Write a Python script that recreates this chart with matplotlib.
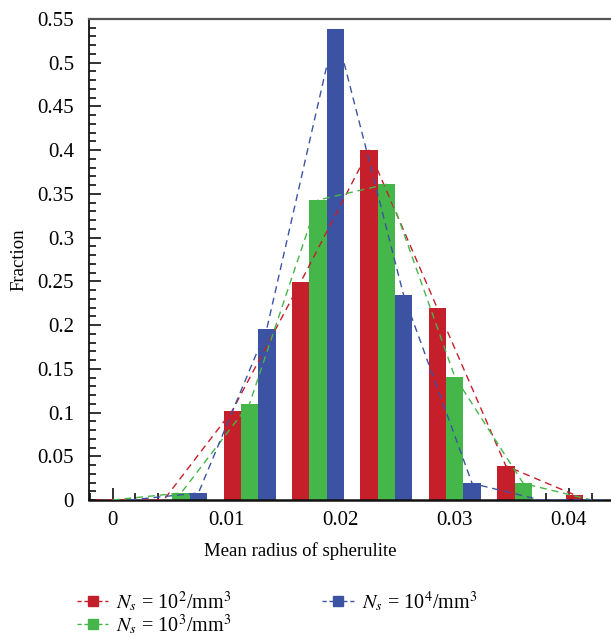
import numpy as np
import matplotlib
matplotlib.use("Agg")
import matplotlib.pyplot as plt
from matplotlib.ticker import MultipleLocator
from matplotlib.lines import Line2D

plt.rcParams["font.family"] = ["Liberation Serif", "DejaVu Serif"]
plt.rcParams["mathtext.fontset"] = "stix"

RED = "#c41f2a"; GREEN = "#45b64a"; BLUE = "#3c53a4"

# bin centres (green sits on the centre, red / blue either side)
centers = [0.000, 0.006, 0.012, 0.018, 0.024, 0.030, 0.036, 0.042]
frac_1e2 = [0.0, 0.0, 0.102, 0.249, 0.400, 0.219, 0.039, 0.006]
frac_1e3 = [0.0, 0.008, 0.110, 0.343, 0.361, 0.141, 0.019, 0.0]
frac_1e4 = [0.0, 0.008, 0.196, 0.539, 0.234, 0.019, 0.0, 0.0]
labels = [r"$N_s$ = 10$^2$/mm$^3$", r"$N_s$ = 10$^3$/mm$^3$", r"$N_s$ = 10$^4$/mm$^3$"]

W = 0.00152
c = np.array(centers)

fig = plt.figure(figsize=(6.11, 6.37), dpi=100)
ax = fig.add_axes([88.5/611, 1-500/637, 1-88.5/611, 481/637])

series = [(frac_1e2, -W, RED), (frac_1e3, 0.0, GREEN), (frac_1e4, W, BLUE)]
for vals, off, col in series:
    ax.bar(c + off, vals, W, color=col, zorder=2)
for vals, off, col in series:
    ax.plot(c + off, vals, ls=(0, (5, 3.5)), lw=1.0, color=col, zorder=3)

ax.set_xlim(-0.00212, 0.0437)
ax.set_ylim(0, 0.55)
ax.xaxis.set_major_locator(MultipleLocator(0.01))
ax.xaxis.set_minor_locator(MultipleLocator(0.002))
ax.yaxis.set_major_locator(MultipleLocator(0.05))
ax.yaxis.set_minor_locator(MultipleLocator(0.01))
ax.xaxis.set_major_formatter(lambda v, p: f"{v:g}")
ax.yaxis.set_major_formatter(lambda v, p: f"{v:g}")
ax.tick_params(which="both", direction="in", top=False, right=False, width=1.2, color="#111")
ax.tick_params(which="major", length=8.5, labelsize=15)
ax.tick_params(axis="y", which="major", pad=10.5)
ax.tick_params(axis="x", which="major", pad=8)
ax.tick_params(which="minor", length=5)

ax.spines["right"].set_visible(False)
ax.spines["top"].set_color("#555555"); ax.spines["top"].set_linewidth(1.6)
ax.spines["left"].set_linewidth(1.3); ax.spines["left"].set_color("#111")
ax.spines["bottom"].set_linewidth(1.8); ax.spines["bottom"].set_color("#111")

ax.set_xlabel("Mean radius of spherulite", fontsize=13.5)
ax.xaxis.set_label_coords(0.406, -0.088)
ax.set_ylabel("Fraction", fontsize=13.5)
ax.yaxis.set_label_coords(-0.117, 0.5)

handles = [Line2D([], [], color=col, ls=(0, (3, 2)), lw=1.0, marker="s", ms=7.5,
                  markerfacecolor=col, markeredgecolor=col) for col in (RED, GREEN, BLUE)]
fig.legend(handles, labels, ncol=2, loc="upper left", bbox_to_anchor=(63/611, 1-575/637),
           frameon=False, fontsize=14.5, handlelength=1.55, handletextpad=0.4,
           columnspacing=4.5, labelspacing=-0.1, borderpad=0.2)

fig.savefig("out.png", dpi=100)
